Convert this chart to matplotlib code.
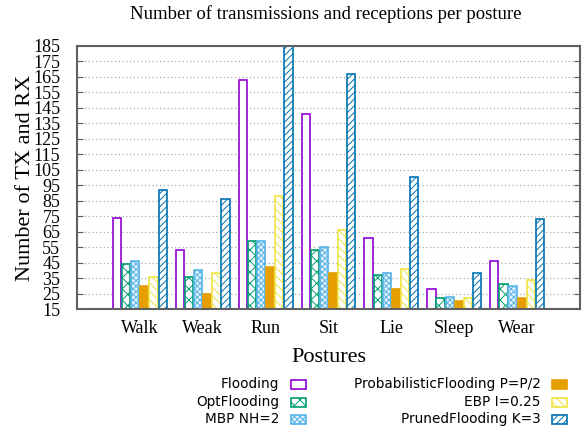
import matplotlib.pyplot as plt
from matplotlib.patches import Rectangle
import numpy as np

postures = ["Walk", "Weak", "Run", "Sit", "Lie", "Sleep", "Wear"]

flooding = [74, 53, 163, 141, 61, 28, 46]
opt_flooding = [44, 36, 59, 53, 37, 22, 31]
mbp = [46, 40, 59, 55, 38, 23, 30]
prob_flooding = [30, 25, 42, 38, 28, 20, 22]
ebp = [36, 38, 88, 66, 41, 22, 34]
pruned = [92, 86, 195, 167, 100, 38, 73]

series = [
    ("Flooding", flooding, "#9400D3", "white", ""),
    ("OptFlooding", opt_flooding, "#009E73", "white", "xxx"),
    ("MBP NH=2", mbp, "#56B4E9", "#e6f3fb", "xxxxxx"),
    ("ProbabilisticFlooding P=P/2", prob_flooding, "#E69F00", "#E69F00", ""),
    ("EBP I=0.25", ebp, "#F0E442", "white", "\\\\\\\\"),
    ("PrunedFlooding K=3", pruned, "#0072B2", "white", "/////"),
]

plt.rcParams['hatch.linewidth'] = 0.7
serif = "Liberation Serif"

fig = plt.figure(figsize=(5.87, 4.30), dpi=100)
ax = fig.add_axes([77 / 587, 1 - 309 / 430, 503 / 587, 263 / 430])

x = np.arange(1, len(postures) + 1)
step = 0.145
width = 0.13
for i, (name, vals, col, face, hatch) in enumerate(series):
    ax.bar(x + (i - 2.5) * step, vals, width, bottom=0, color=face,
           edgecolor=col, hatch=hatch, linewidth=1.2, zorder=2)

ax.set_xlim(0, 8)
ax.set_ylim(15, 185)
ax.set_yticks(range(15, 186, 10))
ax.set_xticks(x)
ax.set_xticklabels(postures, fontfamily=serif, fontsize=13)
for lab in ax.get_yticklabels():
    lab.set_fontfamily(serif)
    lab.set_fontsize(13)
ax.tick_params(axis='y', direction='in', length=4, right=True, pad=12,
               color='#606060')
ax.tick_params(axis='x', length=0, pad=8)
for yv in range(25, 180, 10):
    ax.axhline(yv, color='#aaaaaa', linestyle=(0, (1, 2)), linewidth=0.9,
               zorder=1)
for sp in ax.spines.values():
    sp.set_color('#606060')
    sp.set_linewidth(1.5)

ax.set_ylabel("Number of TX and RX", fontfamily=serif, fontsize=16)
ax.yaxis.set_label_coords(-0.084, 0.5)
ax.set_xlabel("Postures", fontfamily=serif, fontsize=16, labelpad=8)
fig.text(326 / 587, 1 - 14 / 430, "Number of transmissions and receptions per posture",
         fontfamily=serif, fontsize=13.5, ha='center', va='center')

# legend drawn by hand, gnuplot style (text right aligned, key on the right)
rows = [384, 402, 419]
cols = [(279, 291), (541, 552)]
for i, (name, vals, col, face, hatch) in enumerate(series):
    tx, bx = cols[i // 3]
    y = rows[i % 3]
    fig.text(tx / 587, 1 - y / 430, name, fontsize=9.8, ha='right',
             va='center', family='DejaVu Sans')
    fig.patches.append(Rectangle((bx / 587, 1 - (y + 4.5) / 430), 15 / 587,
                                 9 / 430, transform=fig.transFigure,
                                 facecolor=face, edgecolor=col, hatch=hatch,
                                 linewidth=1.2))

fig.savefig("out.png", dpi=100)
